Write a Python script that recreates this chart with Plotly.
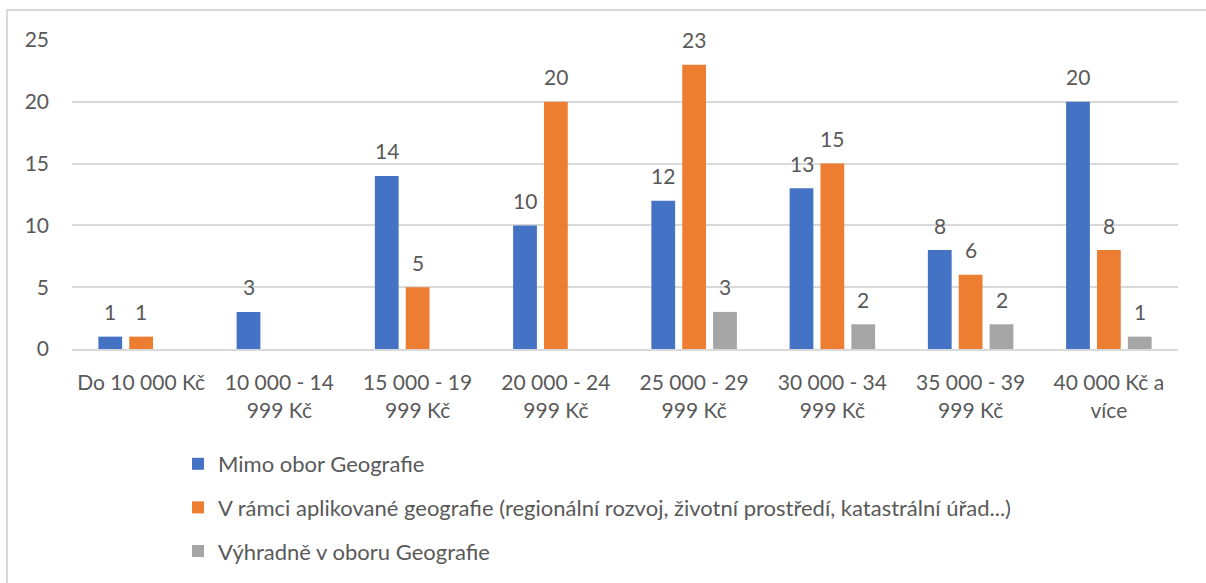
import plotly.graph_objects as go

categories = [
    "Do 10 000 Kč",
    "10 000 - 14<br>999 Kč",
    "15 000 - 19<br>999 Kč",
    "20 000 - 24<br>999 Kč",
    "25 000 - 29<br>999 Kč",
    "30 000 - 34<br>999 Kč",
    "35 000 - 39<br>999 Kč",
    "40 000 Kč a<br>více",
]
mimo_obor = [1, 3, 14, 10, 12, 13, 8, 20]
aplikovana = [1, None, 5, 20, 23, 15, 6, 8]
vyhradne = [None, None, None, None, 3, 2, 2, 1]

series_names = [
    "Mimo obor Geografie",
    "V rámci aplikované geografie (regionální rozvoj, životní prostředí, katastrální úřad...)",
    "Výhradně v oboru Geografie",
]
series_values = [mimo_obor, aplikovana, vyhradne]
colors = ["#4472C4", "#ED7D31", "#A5A5A5"]

FONT = "Lato"
TEXT = "#595959"
W, H = 1206, 583
ML, MR, MT, MB = 72, 28, 40, 234
BARGAP = 0.33
GROUPGAP = 0.23

fig = go.Figure()
for i, (name, vals, col) in enumerate(zip(series_names, series_values, colors)):
    fig.add_trace(go.Bar(
        x=categories, y=vals, name=name,
        marker=dict(color=col, line=dict(width=0)),
        legendgroup=f"g{i}",
    ))

# value labels above each bar, shifted to its slot within the group
plot_w = W - ML - MR
slot = plot_w / len(categories) * (1 - BARGAP) / len(series_values)
annotations = []
for i, vals in enumerate(series_values):
    for cat, v in zip(categories, vals):
        if v is None:
            continue
        annotations.append(dict(
            x=cat, y=v, text=str(v), showarrow=False,
            xshift=(i - 1) * slot, yshift=25,
            font=dict(family=FONT, size=21, color=TEXT),
        ))

fig.update_layout(
    width=W, height=H,
    margin=dict(l=ML, r=MR, t=MT, b=MB, autoexpand=False),
    paper_bgcolor="white", plot_bgcolor="white",
    barmode="group", bargap=BARGAP, bargroupgap=GROUPGAP,
    font=dict(family=FONT, size=21, color=TEXT),
    annotations=annotations,
    showlegend=True,
    legend=dict(
        xref="container", yref="container",
        x=178 / W, y=1 - 443 / H, xanchor="left", yanchor="top",
        orientation="v", tracegroupgap=12, traceorder="grouped",
        font=dict(family=FONT, size=22, color=TEXT),
        itemwidth=30,
    ),
    shapes=[dict(
        type="rect", xref="paper", yref="paper",
        x0=-(ML - 7) / plot_w, x1=1 + (MR + 20) / plot_w,
        y0=-(MB + 20) / (H - MT - MB), y1=1 + (MT - 10) / (H - MT - MB),
        line=dict(color="#D9D9D9", width=2), layer="below",
    )],
)
fig.update_yaxes(
    range=[0, 25], dtick=5, showgrid=True, gridcolor="#D9D9D9", gridwidth=2,
    zeroline=False, showline=False, ticklabelstandoff=22, automargin=False,
    tickfont=dict(family=FONT, size=21, color=TEXT),
)
fig.update_xaxes(
    showline=True, linecolor="#D9D9D9", linewidth=2, showgrid=False,
    ticklabelstandoff=14, automargin=False,
    tickfont=dict(family=FONT, size=21, color=TEXT),
)

fig.write_html("out.html")
